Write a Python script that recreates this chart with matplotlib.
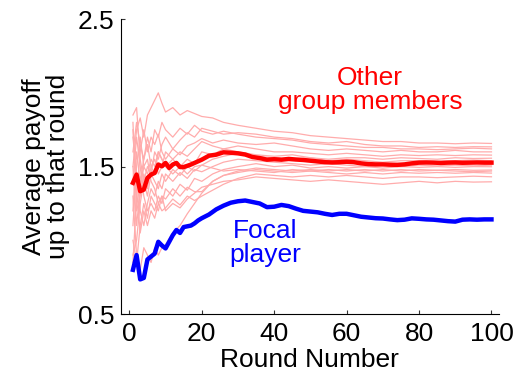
import matplotlib
matplotlib.use("Agg")
import matplotlib.pyplot as plt

plt.rcParams['font.family'] = ['Liberation Sans', 'DejaVu Sans']

# rounds at which the individual (other member) curves were read
member_rounds = [1, 2, 3, 4, 5, 6, 7, 8, 9, 10, 12, 14, 16, 18, 20, 23, 26, 30,
                 35, 40, 45, 50, 55, 60, 65, 70, 75, 80, 85, 90, 95, 100]

member_a = [1.5, 1.75, 1.83, 1.7, 1.85, 1.9, 1.95, 2.0, 1.93, 1.87, 1.9, 1.85, 1.88, 1.86, 1.84, 1.83,
            1.80, 1.78, 1.76, 1.74, 1.73, 1.71, 1.70, 1.69, 1.68, 1.67, 1.67, 1.66, 1.66, 1.655, 1.66, 1.657]
member_b = [1.85, 1.9, 1.55, 1.4, 1.5, 1.45, 1.6, 1.55, 1.65, 1.7, 1.62, 1.68, 1.73, 1.7, 1.76, 1.74,
            1.72, 1.73, 1.72, 1.70, 1.69, 1.67, 1.66, 1.67, 1.65, 1.64, 1.64, 1.63, 1.635, 1.63, 1.635, 1.634]
member_c = [0.85, 1.3, 1.6, 1.75, 1.6, 1.7, 1.65, 1.72, 1.6, 1.55, 1.62, 1.58, 1.64, 1.66, 1.69, 1.66,
            1.68, 1.66, 1.65, 1.66, 1.64, 1.62, 1.61, 1.62, 1.61, 1.60, 1.61, 1.60, 1.60, 1.61, 1.60, 1.60]
member_d = [1.8, 1.2, 1.3, 1.45, 1.35, 1.5, 1.55, 1.45, 1.5, 1.6, 1.55, 1.6, 1.57, 1.62, 1.67, 1.64,
            1.62, 1.64, 1.62, 1.60, 1.60, 1.59, 1.58, 1.59, 1.58, 1.57, 1.58, 1.575, 1.58, 1.575, 1.58, 1.578]
member_e = [1.2, 1.6, 1.4, 1.55, 1.65, 1.5, 1.45, 1.6, 1.55, 1.5, 1.45, 1.5, 1.55, 1.52, 1.6, 1.58,
            1.62, 1.6, 1.58, 1.57, 1.58, 1.56, 1.55, 1.56, 1.56, 1.55, 1.56, 1.555, 1.55, 1.56, 1.555, 1.557]
member_f = [0.9, 1.0, 1.25, 1.4, 1.3, 1.45, 1.4, 1.35, 1.45, 1.4, 1.48, 1.44, 1.5, 1.47, 1.51, 1.55,
            1.57, 1.59, 1.57, 1.56, 1.55, 1.56, 1.54, 1.55, 1.54, 1.53, 1.54, 1.54, 1.535, 1.54, 1.545, 1.54]
member_g = [1.7, 1.45, 1.2, 1.1, 1.25, 1.35, 1.3, 1.4, 1.35, 1.45, 1.4, 1.46, 1.42, 1.48, 1.465, 1.5,
            1.53, 1.55, 1.54, 1.53, 1.52, 1.51, 1.52, 1.51, 1.50, 1.51, 1.50, 1.51, 1.505, 1.51, 1.505, 1.51]
member_h = [1.4, 1.7, 1.5, 1.3, 1.2, 1.25, 1.2, 1.3, 1.25, 1.35, 1.3, 1.38, 1.34, 1.42, 1.40, 1.45,
            1.48, 1.50, 1.52, 1.50, 1.51, 1.49, 1.50, 1.49, 1.50, 1.49, 1.50, 1.495, 1.50, 1.495, 1.50, 1.499]
member_i = [1.0, 0.85, 1.1, 1.25, 1.15, 1.3, 1.25, 1.2, 1.3, 1.28, 1.35, 1.3, 1.36, 1.33, 1.33, 1.40,
            1.44, 1.47, 1.49, 1.48, 1.47, 1.48, 1.47, 1.48, 1.47, 1.48, 1.47, 1.48, 1.475, 1.48, 1.475, 1.477]
member_j = [1.3, 0.9, 0.8, 0.95, 0.9, 0.85, 0.95, 0.9, 0.95, 0.97, 1.05, 1.1, 1.18, 1.25, 1.32, 1.40,
            1.44, 1.46, 1.48, 1.47, 1.46, 1.47, 1.46, 1.45, 1.46, 1.45, 1.46, 1.455, 1.46, 1.455, 1.46, 1.456]
member_k = [1.75, 1.35, 1.05, 1.2, 1.1, 1.2, 1.15, 1.25, 1.2, 1.22, 1.28, 1.24, 1.3, 1.27, 1.30, 1.34,
            1.38, 1.42, 1.45, 1.44, 1.43, 1.44, 1.43, 1.44, 1.43, 1.42, 1.43, 1.43, 1.425, 1.43, 1.435, 1.431]
member_l = [1.1, 1.5, 1.7, 1.5, 1.55, 1.4, 1.35, 1.25, 1.3, 1.2, 1.25, 1.22, 1.28, 1.32, 1.36, 1.38,
            1.40, 1.41, 1.43, 1.42, 1.41, 1.40, 1.41, 1.40, 1.39, 1.38, 1.39, 1.40, 1.39, 1.40, 1.395, 1.397]
member_m = [1.6, 1.8, 1.65, 1.55, 1.7, 1.6, 1.75, 1.7, 1.8, 1.75, 1.7, 1.76, 1.72, 1.78, 1.74, 1.72,
            1.74, 1.72, 1.70, 1.69, 1.68, 1.66, 1.65, 1.64, 1.63, 1.63, 1.62, 1.62, 1.615, 1.62, 1.625, 1.62]
member_n = [1.5, 1.1, 1.35, 1.5, 1.45, 1.55, 1.5, 1.6, 1.55, 1.5, 1.55, 1.5, 1.45, 1.5, 1.51, 1.49,
            1.47, 1.48, 1.47, 1.46, 1.48, 1.47, 1.48, 1.47, 1.48, 1.47, 1.48, 1.47, 1.475, 1.47, 1.465, 1.47]

members = [member_a, member_b, member_c, member_d, member_e, member_f, member_g,
           member_h, member_i, member_j, member_k, member_l, member_m, member_n]

# rounds for the two thick curves
mean_rounds = list(range(1, 21)) + list(range(22, 101, 2))

others_mean = [1.39, 1.446, 1.333, 1.344, 1.423, 1.446, 1.457, 1.514, 1.502, 1.525,
               1.491, 1.514, 1.525, 1.497, 1.497, 1.505, 1.514, 1.525, 1.536, 1.547,
               1.574, 1.581, 1.597, 1.594, 1.590, 1.582, 1.565, 1.558, 1.547, 1.550,
               1.547, 1.552, 1.548, 1.545, 1.540, 1.535, 1.530, 1.528, 1.530, 1.533,
               1.530, 1.522, 1.517, 1.515, 1.515, 1.513, 1.512, 1.515, 1.522, 1.527,
               1.528, 1.527, 1.525, 1.527, 1.528, 1.526, 1.527, 1.528, 1.527, 1.527]

focal = [0.80, 0.90, 0.735, 0.745, 0.87, 0.89, 0.91, 0.99, 0.965, 0.945,
         0.99, 1.035, 1.07, 1.05, 1.09, 1.095, 1.10, 1.115, 1.135, 1.15,
         1.175, 1.21, 1.235, 1.255, 1.265, 1.27, 1.26, 1.25, 1.225, 1.228,
         1.24, 1.232, 1.215, 1.20, 1.195, 1.19, 1.18, 1.172, 1.18, 1.18,
         1.17, 1.16, 1.155, 1.15, 1.148, 1.142, 1.137, 1.14, 1.149, 1.146,
         1.142, 1.14, 1.135, 1.13, 1.127, 1.14, 1.142, 1.14, 1.142, 1.142]

fig = plt.figure(figsize=(5.16, 3.83), dpi=100)
ax = fig.add_axes([0.2345, 0.18, 0.732, 0.77])

for m in members:
    ax.plot(member_rounds, m, color='#ffacac', linewidth=0.9)

ax.plot(mean_rounds, others_mean, color='red', linewidth=3.2, solid_joinstyle='round')
ax.plot(mean_rounds, focal, color='blue', linewidth=3.2, solid_joinstyle='round')

ax.text(66.5, 2.02, 'Other\ngroup members', color='red', fontsize=19,
        ha='center', va='center', linespacing=1.0)
ax.text(37.5, 0.98, 'Focal\nplayer', color='blue', fontsize=19,
        ha='center', va='center', linespacing=1.0)

ax.set_xlim(-2.3, 102)
ax.set_ylim(0.5, 2.5)
ax.set_xticks([0, 20, 40, 60, 80, 100])
ax.set_yticks([0.5, 1.5, 2.5])
ax.tick_params(direction='in', labelsize=19, length=3, color='#333333')
ax.tick_params(axis='x', pad=6)
ax.tick_params(axis='y', pad=5)
ax.spines['top'].set_visible(False)
ax.spines['right'].set_visible(False)
ax.set_xlabel('Round Number', fontsize=19, labelpad=1)
ax.set_ylabel('Average payoff\nup to that round', fontsize=19, labelpad=5,
              linespacing=1.0)

fig.savefig('out.png', dpi=100)
